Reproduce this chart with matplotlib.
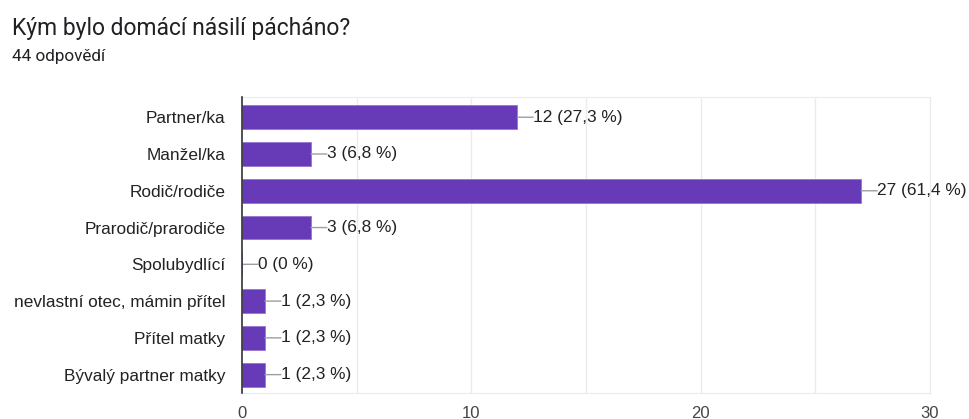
import matplotlib.pyplot as plt

plt.rcParams['font.family'] = ['Liberation Sans', 'DejaVu Sans']

# Data
categories = ['Partner/ka', 'Manžel/ka', 'Rodič/rodiče', 'Prarodič/prarodiče',
              'Spolubydlící', 'nevlastní otec, mámin přítel', 'Přítel matky',
              'Bývalý partner matky']
counts = [12, 3, 27, 3, 0, 1, 1, 1]
percents = ['27,3', '6,8', '61,4', '6,8', '0', '2,3', '2,3', '2,3']
xticks = [0, 10, 20, 30]

fig = plt.figure(figsize=(9.7, 4.19), dpi=100)
fig.text(0.012, 0.933, 'Kým bylo domácí násilí pácháno?', fontsize=16.5,
         color='#202124', va='center', family='Roboto')
fig.text(0.012, 0.864, '44 odpovědí', fontsize=12.3, color='#202124',
         va='center', family='Roboto')

ax = fig.add_axes([0.2495, 0.062, 0.7093, 0.7065])
y = range(len(categories))
ax.barh(y, counts, height=0.65, color='#673ab7', edgecolor='#9575cd',
        linewidth=0.6, zorder=3)

for i, (c, p) in enumerate(zip(counts, percents)):
    ax.annotate('', xy=(c, i), xytext=(11.5, 0), textcoords='offset points',
                arrowprops=dict(arrowstyle='-', color='#9e9e9e', lw=1,
                                shrinkA=0, shrinkB=0), zorder=4)
    ax.annotate(f'{c} ({p} %)', xy=(c, i), xytext=(11.5, 0),
                textcoords='offset points', va='center', ha='left',
                fontsize=12.4, color='#222222', zorder=5)

ax.set_xlim(0, 30)
ax.set_ylim(7.5, -0.55)
ax.set_yticks(list(y))
ax.set_yticklabels(categories, fontsize=12.4, color='#222222')
ax.set_xticks(xticks)
ax.set_xticklabels([str(t) for t in xticks], fontsize=12, color='#444444')
for gx in range(5, 31, 5):
    ax.axvline(gx, color='#ebebeb', lw=1, zorder=1)
ax.tick_params(axis='both', length=0)
ax.tick_params(axis='y', pad=12)
ax.tick_params(axis='x', pad=9)

for s in ['top', 'right', 'bottom']:
    ax.spines[s].set_color('#ebebeb')
ax.spines['left'].set_color('#333333')
ax.spines['left'].set_linewidth(1.2)
ax.spines['left'].set_zorder(6)

fig.savefig('out.png', dpi=100)
